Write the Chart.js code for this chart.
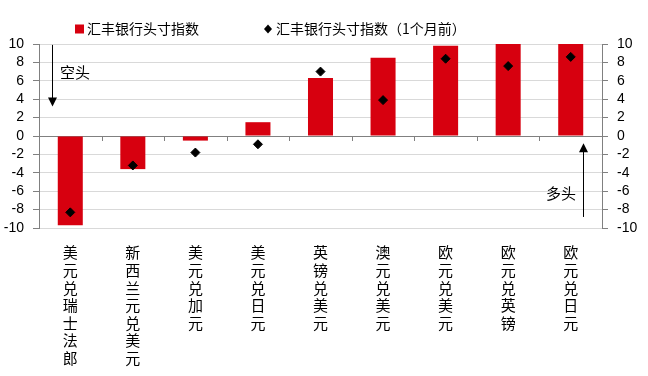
<!DOCTYPE html>
<html>
<head>
<meta charset="utf-8">
<script src="https://cdn.jsdelivr.net/npm/chart.js@4.4.0/dist/chart.umd.min.js"></script>
<style>
  html, body { margin: 0; padding: 0; background: #fff; }
  #wrap { width: 648px; height: 376px; position: relative; }
</style>
</head>
<body>
<div id="wrap"><canvas id="chart"></canvas></div>
<script>
// Data
const categories = ['美元兑瑞士法郎', '新西兰元兑美元', '美元兑加元', '美元兑日元', '英镑兑美元', '澳元兑美元', '欧元兑美元', '欧元兑英镑', '欧元兑日元'];
const positionNow = [-9.7, -3.6, -0.5, 1.5, 6.3, 8.5, 9.8, 10, 10];
const positionPrev = [-8.3, -3.2, -1.8, -0.9, 7.0, 3.9, 8.4, 7.6, 8.6];
const yTicks = [-10, -8, -6, -4, -2, 0, 2, 4, 6, 8, 10];
const seriesNames = ['汇丰银行头寸指数', '汇丰银行头寸指数（1个月前）'];

const RED = '#D7000F';
const CJK = '"Noto Sans CJK SC", "Noto Sans", sans-serif';
const LATIN = '"Liberation Sans", Arial, sans-serif';

// Legend, zero-line ticks and the two arrow notes
const decorations = {
    id: 'decorations',
    afterDatasetsDraw(chart) {
        const ctx = chart.ctx;
        const area = chart.chartArea;
        const x = chart.scales.x;
        const y = chart.scales.y;
        const y0 = y.getPixelForValue(0);

        ctx.save();
        // small ticks on the zero line between categories
        ctx.strokeStyle = '#808080';
        ctx.lineWidth = 1;
        for (let i = 1; i < categories.length; i++) {
            const bx = Math.round((x.getPixelForTick(i - 1) + x.getPixelForTick(i)) / 2) + 0.5;
            ctx.beginPath();
            ctx.moveTo(bx, y0);
            ctx.lineTo(bx, y0 + 5);
            ctx.stroke();
        }

        // arrows
        ctx.strokeStyle = '#000';
        ctx.fillStyle = '#000';
        const arrow = (ax, fromY, toY) => {
            const dir = toY > fromY ? 1 : -1;
            ctx.beginPath();
            ctx.moveTo(ax, fromY);
            ctx.lineTo(ax, toY - dir * 8);
            ctx.stroke();
            ctx.beginPath();
            ctx.moveTo(ax, toY);
            ctx.lineTo(ax - 4.5, toY - dir * 9);
            ctx.lineTo(ax + 4.5, toY - dir * 9);
            ctx.closePath();
            ctx.fill();
        };
        arrow(area.left + 13.5, y.getPixelForValue(9.9), y.getPixelForValue(3.2));
        arrow(area.right - 18.5, y.getPixelForValue(-8.8), y.getPixelForValue(-0.8));

        ctx.font = '15px ' + CJK;
        ctx.textBaseline = 'middle';
        ctx.textAlign = 'left';
        ctx.fillText('空头', area.left + 21, y.getPixelForValue(6.9));
        ctx.textAlign = 'right';
        ctx.fillText('多头', area.right - 26, y.getPixelForValue(-6.2));

        // legend
        const ly = area.top - 15;
        ctx.font = '14px ' + CJK;
        ctx.textAlign = 'left';
        const l1 = area.left + 36;
        ctx.fillStyle = RED;
        ctx.fillRect(l1, ly - 4.5, 9, 9);
        ctx.fillStyle = '#000';
        ctx.fillText(seriesNames[0], l1 + 12, ly);
        const l2 = area.left + 229;
        ctx.beginPath();
        ctx.moveTo(l2, ly - 4.5);
        ctx.lineTo(l2 + 4, ly);
        ctx.lineTo(l2, ly + 4.5);
        ctx.lineTo(l2 - 4, ly);
        ctx.closePath();
        ctx.fill();
        ctx.fillText(seriesNames[1], l2 + 8, ly);
        ctx.restore();
    }
};

const yAxis = (position, width) => ({
    type: 'linear',
    position: position,
    min: -10,
    max: 10,
    afterBuildTicks: (scale) => { scale.ticks = yTicks.map(v => ({ value: v })); },
    afterFit: (scale) => { scale.width = width; },
    border: { display: true, color: '#808080', width: 1 },
    grid: {
        drawOnChartArea: position === 'left',
        color: (c) => (c.tick && c.tick.value === 0 ? '#808080' : '#D9D9D9'),
        tickColor: '#808080',
        tickLength: 6
    },
    ticks: {
        color: '#000',
        padding: 9,
        autoSkip: false,
        font: { family: LATIN, size: 14 }
    }
});

new Chart(document.getElementById('chart'), {
    data: {
        labels: categories,
        datasets: [
            {
                type: 'line',
                label: seriesNames[1],
                data: positionPrev,
                showLine: false,
                pointStyle: 'rectRot',
                pointRadius: 4.5,
                pointHoverRadius: 4.5,
                pointBackgroundColor: '#000',
                pointBorderColor: '#000',
                order: 0
            },
            {
                type: 'bar',
                label: seriesNames[0],
                data: positionNow,
                backgroundColor: RED,
                barPercentage: 0.4,
                categoryPercentage: 1,
                order: 1
            }
        ]
    },
    options: {
        responsive: true,
        maintainAspectRatio: false,
        animation: false,
        layout: { padding: { top: 44, left: 0, right: 0, bottom: 0 } },
        plugins: {
            legend: { display: false },
            tooltip: { enabled: false }
        },
        scales: {
            x: {
                type: 'category',
                offset: true,
                afterFit: (scale) => { scale.height = 148; },
                border: { display: false },
                grid: { display: false },
                ticks: {
                    color: '#000',
                    padding: 8,
                    maxRotation: 0,
                    autoSkip: false,
                    font: { family: CJK, size: 15, lineHeight: 1.17 },
                    callback: (v, i) => categories[i].split('')
                }
            },
            y: yAxis('left', 39),
            y2: yAxis('right', 46)
        }
    },
    plugins: [decorations]
});
</script>
</body>
</html>
